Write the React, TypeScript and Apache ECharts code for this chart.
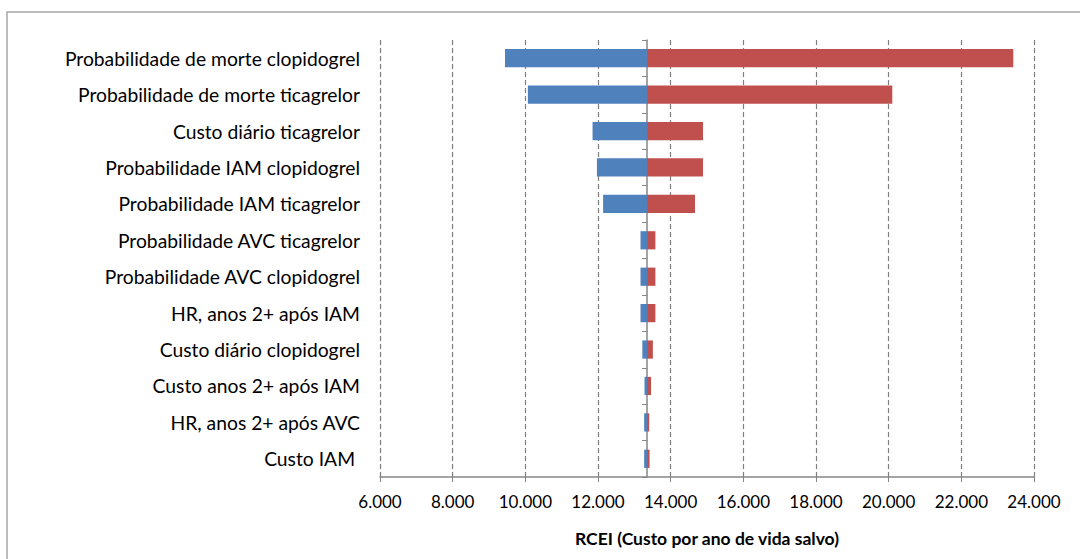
import React, { useEffect, useRef } from "react";
import * as echarts from "echarts";

const categories = [
  "Probabilidade de morte clopidogrel",
  "Probabilidade de morte ticagrelor",
  "Custo diário ticagrelor",
  "Probabilidade IAM clopidogrel",
  "Probabilidade IAM ticagrelor",
  "Probabilidade AVC ticagrelor",
  "Probabilidade AVC clopidogrel",
  "HR, anos 2+ após IAM",
  "Custo diário clopidogrel",
  "Custo anos 2+ após IAM",
  "HR, anos 2+ após AVC",
  "Custo IAM ",
];
const baseValue = 13350;
const lowValues = [9440, 10070, 11850, 11970, 12140, 13170, 13170, 13170, 13220, 13280, 13270, 13270];
const highValues = [23430, 20100, 14890, 14890, 14670, 13580, 13580, 13580, 13510, 13460, 13410, 13420];
const xTicks = { min: 6000, max: 24000, interval: 2000 };
const xTitle = "RCEI (Custo por ano de vida salvo)";

const FONT = "Lato, sans-serif";

export default function App() {
  const ref = useRef<HTMLDivElement>(null);
  useEffect(() => {
    if (!ref.current) return;
    const chart = echarts.init(ref.current, undefined, { renderer: "svg" });
    const cats = categories.slice().reverse();
    const lows = lowValues.slice().reverse();
    const highs = highValues.slice().reverse();
    const gridLeft = 380;
    const gridRight = 46;
    const gridWidth = 1080 - gridLeft - gridRight;
    const baseOffset = ((baseValue - xTicks.min) / (xTicks.max - xTicks.min)) * gridWidth;
    chart.setOption({
      animation: false,
      graphic: [
        {
          type: "rect",
          shape: { x: 7, y: 12, width: 1100, height: 600 },
          style: { fill: "none", stroke: "#a6a6a6", lineWidth: 1.5 },
          silent: true,
        },
      ],
      grid: { left: gridLeft, right: gridRight, top: 40, bottom: 82 },
      xAxis: {
        type: "value",
        min: xTicks.min,
        max: xTicks.max,
        interval: xTicks.interval,
        name: xTitle,
        nameLocation: "middle",
        nameGap: 52,
        nameTextStyle: { fontFamily: FONT, fontSize: 17.5, fontWeight: "bold", color: "#000" },
        axisLine: { show: true, lineStyle: { color: "#868686", width: 1.5 } },
        axisTick: { show: true, length: 5, lineStyle: { color: "#868686" } },
        axisLabel: {
          fontFamily: FONT,
          fontSize: 17,
          color: "#000",
          margin: 16,
          formatter: (v: number) => v.toLocaleString("de-DE"),
        },
        splitLine: { show: true, lineStyle: { color: "#7f7f7f", type: [5, 3], width: 1.2 } },
      },
      yAxis: [
        {
          type: "category",
          data: cats,
          axisLine: { show: false },
          axisTick: { show: false },
          axisLabel: { fontFamily: FONT, fontSize: 19.3, color: "#000", margin: 20 },
        },
        {
          type: "category",
          data: cats,
          position: "left",
          offset: -baseOffset,
          axisLine: { show: true, lineStyle: { color: "#868686", width: 1.5 } },
          axisTick: { show: true, length: 5, lineStyle: { color: "#868686" } },
          axisLabel: { show: false },
        },
      ],
      series: [
        {
          type: "bar",
          stack: "t",
          data: lows,
          itemStyle: { color: "transparent" },
          barWidth: "50%",
          silent: true,
        },
        {
          type: "bar",
          stack: "t",
          data: lows.map((l) => baseValue - l),
          itemStyle: { color: "#4F81BD" },
          barWidth: "50%",
        },
        {
          type: "bar",
          stack: "t",
          data: highs.map((h) => h - baseValue),
          itemStyle: { color: "#C0504D" },
          barWidth: "50%",
        },
      ],
    });
    return () => chart.dispose();
  }, []);
  return (
    <div
      ref={ref}
      style={{ position: "fixed", left: 0, top: 0, width: 1080, height: 559, background: "#fff" }}
    />
  );
}
